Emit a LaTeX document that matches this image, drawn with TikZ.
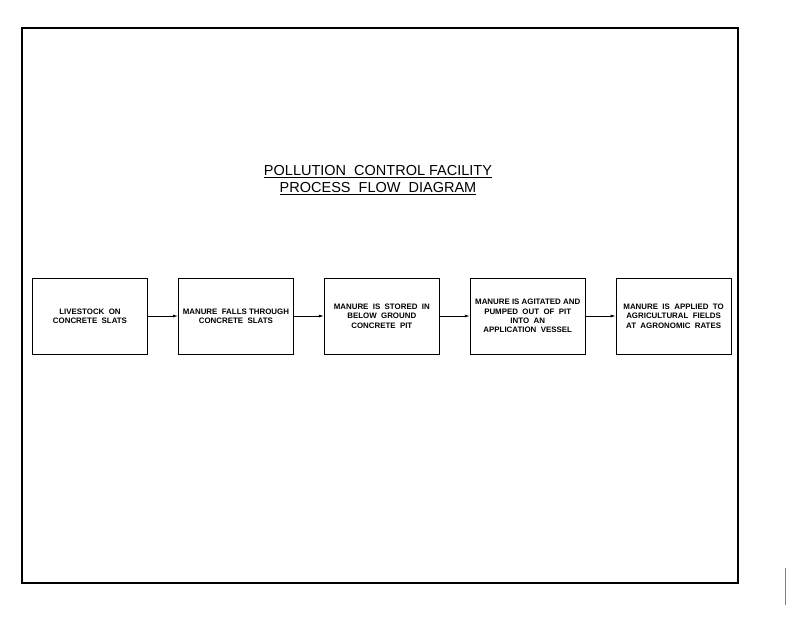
\documentclass[tikz,border=0pt]{standalone}
\usepackage{fontspec}
\setmainfont{Liberation Sans}
\usetikzlibrary{positioning, arrows.meta}

\begin{document}
\begin{tikzpicture}[x=1pt, y=-1pt, font=\fontsize{7.9}{9.3}\selectfont\bfseries,
    stepbox/.style={draw, line width=0.9pt, minimum width=115pt, minimum height=76pt,
        align=center, inner sep=1pt},
    flow/.style={line width=0.7pt, -{Latex[length=5pt, width=3pt]}}]

    % Page size and sheet frame
    \useasboundingbox (0,0) rectangle (800,618);
    \draw[line width=2.2pt] (22,28) rectangle (738,583);

    % Title
    \node[align=center, font=\fontsize{14.5}{16}\selectfont] (title) at (378,180) {
        \underline{POLLUTION\ \ CONTROL\ FACILITY}\\[0.5pt]
        \underline{PROCESS\ \ FLOW\ \ DIAGRAM}};

    % Process steps
    \node[stepbox] (livestock) at (90,316) {LIVESTOCK\ \ ON\\CONCRETE\ \ SLATS};
    \node[stepbox, right=30pt of livestock] (falls) {MANURE\ \ FALLS\ THROUGH\\CONCRETE\ \ SLATS};
    \node[stepbox, right=30pt of falls] (stored) {MANURE\ \ IS\ \ STORED\ \ IN\\BELOW\ \ GROUND\\CONCRETE\ \ PIT};
    \node[stepbox, right=30pt of stored] (pumped) {MANURE\ IS\ AGITATED\ AND\\PUMPED\ \ OUT\ \ OF\ \ PIT\\INTO\ \ AN\\APPLICATION\ \ VESSEL};
    \node[stepbox, right=30pt of pumped] (applied) {MANURE\ \ IS\ \ APPLIED\ \ TO\\AGRICULTURAL\ \ FIELDS\\AT\ \ AGRONOMIC\ \ RATES};

    % Connectors
    \draw[flow] (livestock) -- (falls);
    \draw[flow] (falls) -- (stored);
    \draw[flow] (stored) -- (pumped);
    \draw[flow] (pumped) -- (applied);

    % Scan mark at the right edge
    \draw[gray, line width=1pt] (785,568) -- (785,605);

\end{tikzpicture}
\end{document}
